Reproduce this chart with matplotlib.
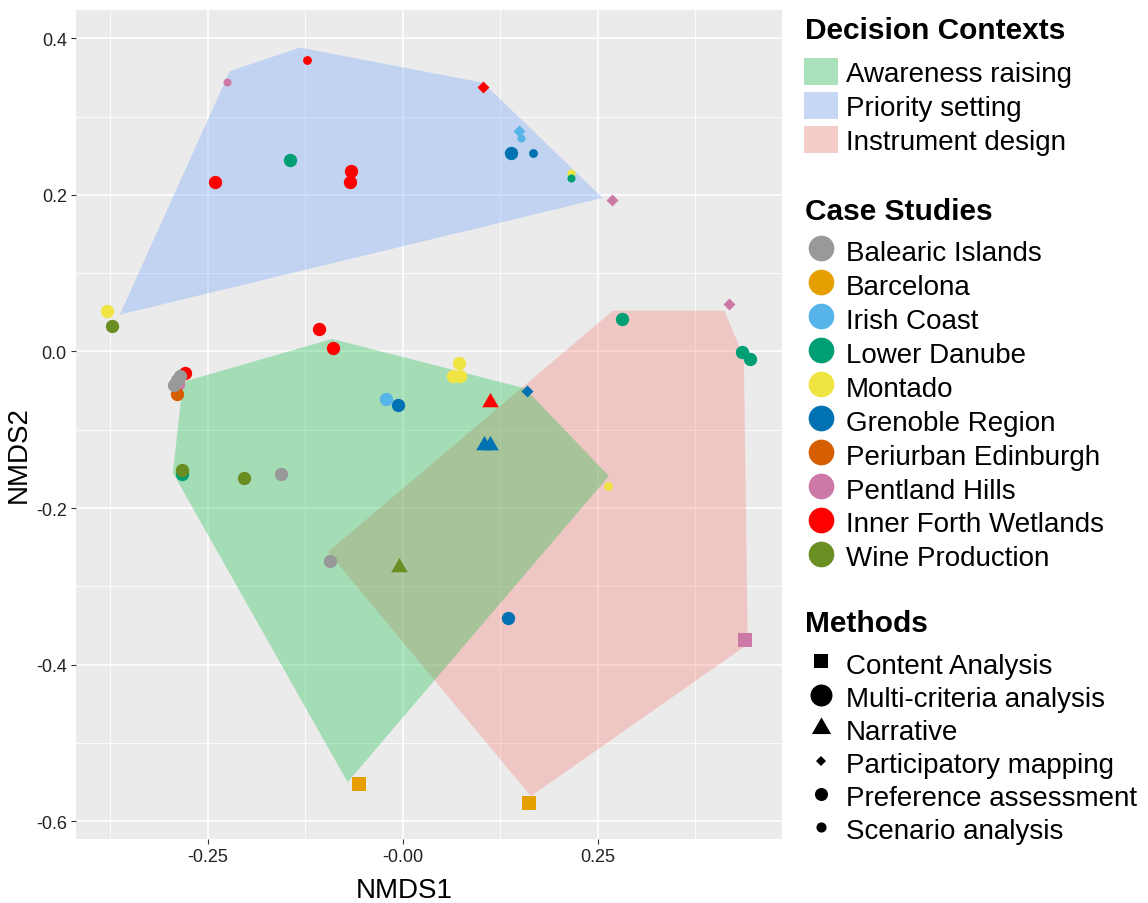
import matplotlib
matplotlib.use("Agg")
import matplotlib.pyplot as plt
from matplotlib.lines import Line2D
from matplotlib.patches import Patch, Polygon

plt.rcParams['font.family'] = ['Liberation Sans', 'DejaVu Sans']

# decision context hulls (NMDS1, NMDS2 of the hull corners)
contexts = ['Awareness raising', 'Priority setting', 'Instrument design']
context_colors = ['#00BA38', '#619CFF', '#F8766D']
aware_x = [-0.295, -0.282, -0.091, 0.156, 0.264, -0.071]
aware_y = [-0.155, -0.039, 0.016, -0.047, -0.159, -0.550]
prio_x = [-0.363, -0.222, -0.132, 0.103, 0.256]
prio_y = [0.047, 0.358, 0.388, 0.343, 0.196]
instr_x = [-0.096, 0.269, 0.412, 0.437, 0.442, 0.164]
instr_y = [-0.256, 0.052, 0.052, -0.007, -0.374, -0.568]

cases = ['Balearic Islands', 'Barcelona', 'Irish Coast', 'Lower Danube', 'Montado',
         'Grenoble Region', 'Periurban Edinburgh', 'Pentland Hills',
         'Inner Forth Wetlands', 'Wine Production']
case_colors = ['#999999', '#E69F00', '#56B4E9', '#009E73', '#F0E442',
               '#0072B2', '#D55E00', '#CC79A7', '#FF0000', '#6B8E23']

methods = ['Content Analysis', 'Multi-criteria analysis', 'Narrative',
           'Participatory mapping', 'Preference assessment', 'Scenario analysis']

# one row per study
nmds1 = [-0.226, -0.123, -0.145, -0.241, -0.067, -0.068, -0.379, -0.373, -0.108, -0.090,
         0.103, 0.149, 0.151, 0.138, 0.167, 0.215, 0.216, 0.268, 0.418, 0.281,
         0.435, 0.445, -0.279, -0.288, -0.290, -0.286, -0.290, -0.294, -0.022, -0.006,
         -0.283, -0.283, -0.204, -0.156, -0.094, -0.005, 0.072, 0.064, 0.073, 0.159,
         0.112, 0.104, 0.112, 0.263, 0.135, 0.438, -0.056, 0.161]
nmds2 = [0.344, 0.372, 0.244, 0.216, 0.231, 0.216, 0.051, 0.033, 0.029, 0.005,
         0.338, 0.281, 0.272, 0.253, 0.253, 0.228, 0.222, 0.193, 0.060, 0.042,
         -0.001, -0.010, -0.028, -0.041, -0.054, -0.031, -0.036, -0.043, -0.061, -0.069,
         -0.157, -0.151, -0.161, -0.157, -0.268, -0.275, -0.015, -0.032, -0.032, -0.051,
         -0.064, -0.119, -0.119, -0.172, -0.340, -0.369, -0.553, -0.577]
site = ['Pentland Hills', 'Inner Forth Wetlands', 'Lower Danube', 'Inner Forth Wetlands',
        'Inner Forth Wetlands', 'Inner Forth Wetlands', 'Montado', 'Wine Production',
        'Inner Forth Wetlands', 'Inner Forth Wetlands',
        'Inner Forth Wetlands', 'Irish Coast', 'Irish Coast', 'Grenoble Region',
        'Grenoble Region', 'Montado', 'Lower Danube', 'Pentland Hills', 'Pentland Hills',
        'Lower Danube',
        'Lower Danube', 'Lower Danube', 'Inner Forth Wetlands', 'Pentland Hills',
        'Periurban Edinburgh', 'Balearic Islands', 'Balearic Islands', 'Balearic Islands',
        'Irish Coast', 'Grenoble Region',
        'Lower Danube', 'Wine Production', 'Wine Production', 'Balearic Islands',
        'Balearic Islands', 'Wine Production', 'Montado', 'Montado', 'Montado',
        'Grenoble Region',
        'Inner Forth Wetlands', 'Grenoble Region', 'Grenoble Region', 'Montado',
        'Grenoble Region', 'Pentland Hills', 'Barcelona', 'Barcelona']
method = ['Scenario analysis', 'Preference assessment', 'Multi-criteria analysis',
          'Multi-criteria analysis', 'Multi-criteria analysis', 'Multi-criteria analysis',
          'Multi-criteria analysis', 'Multi-criteria analysis', 'Multi-criteria analysis',
          'Multi-criteria analysis',
          'Participatory mapping', 'Participatory mapping', 'Scenario analysis',
          'Multi-criteria analysis', 'Preference assessment', 'Scenario analysis',
          'Scenario analysis', 'Participatory mapping', 'Participatory mapping',
          'Multi-criteria analysis',
          'Multi-criteria analysis', 'Multi-criteria analysis', 'Multi-criteria analysis',
          'Multi-criteria analysis', 'Multi-criteria analysis', 'Multi-criteria analysis',
          'Multi-criteria analysis', 'Multi-criteria analysis', 'Multi-criteria analysis',
          'Multi-criteria analysis',
          'Multi-criteria analysis', 'Multi-criteria analysis', 'Multi-criteria analysis',
          'Multi-criteria analysis', 'Multi-criteria analysis', 'Narrative',
          'Multi-criteria analysis', 'Multi-criteria analysis', 'Multi-criteria analysis',
          'Participatory mapping',
          'Narrative', 'Narrative', 'Narrative', 'Preference assessment',
          'Multi-criteria analysis', 'Content Analysis', 'Content Analysis',
          'Content Analysis']

tri = [(0, 0.577), (-0.5, -0.289), (0.5, -0.289)]
m_marker = {'Content Analysis': 's', 'Multi-criteria analysis': 'o', 'Narrative': tri,
            'Participatory mapping': 'D', 'Preference assessment': 'o',
            'Scenario analysis': 'o'}
m_size = {'Content Analysis': 88, 'Multi-criteria analysis': 92, 'Narrative': 190,
          'Participatory mapping': 37, 'Preference assessment': 40,
          'Scenario analysis': 34}
m_legsize = {'Content Analysis': 9.6, 'Multi-criteria analysis': 15.8, 'Narrative': 16,
             'Participatory mapping': 4.8, 'Preference assessment': 9.4,
             'Scenario analysis': 7.3}
col = dict(zip(cases, case_colors))

fig = plt.figure(figsize=(11.48, 9.04), dpi=100)
ax = fig.add_axes([76 / 1148, 64 / 904, 706 / 1148, 829 / 904])
ax.set_facecolor('#EBEBEB')
for s in ax.spines.values():
    s.set_visible(False)

alpha = 0.3
for xs, ys, c in [(instr_x, instr_y, context_colors[2]),
                  (prio_x, prio_y, context_colors[1]),
                  (aware_x, aware_y, context_colors[0])]:
    ax.add_patch(Polygon(list(zip(xs, ys)), closed=True, facecolor=c,
                         alpha=alpha, edgecolor='none', zorder=2))

for x, y, st, me in zip(nmds1, nmds2, site, method):
    ax.scatter(x, y, s=m_size[me], marker=m_marker[me], color=col[st],
               linewidths=0, zorder=3)

ax.set_xlim(-0.4192, 0.4859)
ax.set_ylim(-0.6226, 0.436)
ax.set_xticks([-0.25, 0.0, 0.25])
ax.set_xticklabels(['-0.25', '-0.00', '0.25'])
ax.set_yticks([0.4, 0.2, 0.0, -0.2, -0.4, -0.6])
ax.set_yticklabels(['0.4', '0.2', '0.0', '-0.2', '-0.4', '-0.6'])
ax.set_xticks([-0.375, -0.125, 0.125, 0.375], minor=True)
ax.set_yticks([0.3, 0.1, -0.1, -0.3, -0.5], minor=True)
ax.grid(which='major', color='white', linewidth=1.2, zorder=0)
ax.grid(which='minor', color='white', linewidth=0.6, zorder=0)
ax.set_axisbelow(True)
ax.tick_params(which='major', length=3.6, width=0.8, color='#333333',
               labelsize=13, labelcolor='#222222', pad=3)
ax.tick_params(which='minor', length=0)

ax.set_xlabel('NMDS1', fontsize=20)
ax.xaxis.set_label_coords((404 - 76) / 706, -0.046)
ax.set_ylabel('NMDS2', fontsize=20)
ax.yaxis.set_label_coords(-0.062, 1 - (455 - 11) / 829)

# legends
bg = 242 / 255
ctx_handles = []
for c in context_colors:
    rgb = matplotlib.colors.to_rgb(c)
    key = tuple(alpha * v + (1 - alpha) * bg for v in rgb)
    ctx_handles.append(Patch(facecolor=key, edgecolor='none'))
case_handles = [Line2D([], [], ls='none', marker='o', markersize=18.5,
                       markerfacecolor=c, markeredgewidth=0) for c in case_colors]
meth_handles = [Line2D([], [], ls='none', marker=m_marker[m], markersize=m_legsize[m],
                       markerfacecolor='black', markeredgewidth=0) for m in methods]

common = dict(loc='upper left', frameon=False, fontsize=20, borderpad=0,
              borderaxespad=0, handlelength=1.22, handletextpad=0.29,
              handleheight=1.12)
for handles, labels, title, top, tbase, ls in [
        (ctx_handles, contexts, 'Decision Contexts', 59, 39, 0.175),
        (case_handles, cases, 'Case Studies', 238, 220, 0.18),
        (meth_handles, methods, 'Methods', 651, 632, 0.15)]:
    leg = fig.legend(handles, labels, bbox_to_anchor=(804 / 1148, 1 - top / 904),
                     labelspacing=ls, **common)
    fig.text(805 / 1148, 1 - tbase / 904, title, fontsize=21.5, fontweight='bold',
             va='baseline', ha='left')

fig.savefig('out.png', dpi=100)
